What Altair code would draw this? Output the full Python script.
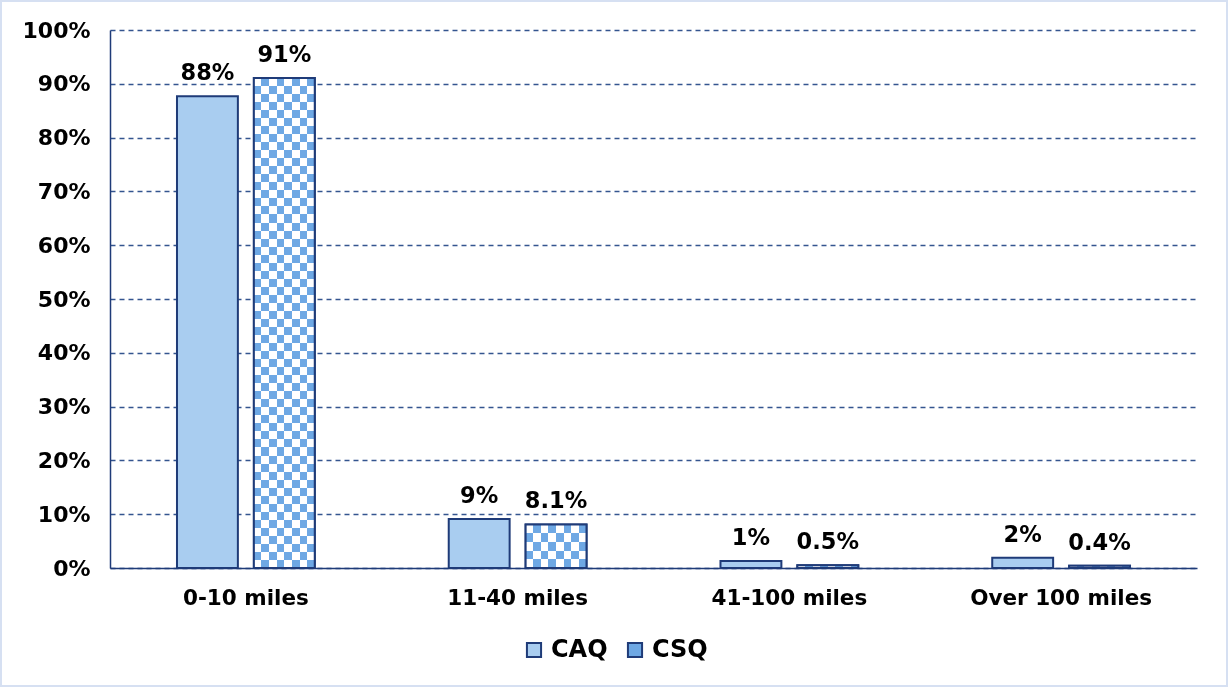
import altair as alt
import pandas as pd

# ---- data ----
categories = ["0-10 miles", "11-40 miles", "41-100 miles", "Over 100 miles"]
series = ["CAQ", "CSQ"]
caq_values = [87.7, 9.1, 1.3, 1.9]
csq_values = [91.1, 8.1, 0.5, 0.4]
caq_labels = ["88%", "9%", "1%", "2%"]
csq_labels = ["91%", "8.1%", "0.5%", "0.4%"]
y_ticks = [0, 10, 20, 30, 40, 50, 60, 70, 80, 90, 100]

rows = []
for c, v, l in zip(categories, caq_values, caq_labels):
    rows.append({"cat": c, "series": "CAQ", "value": v, "label": l})
for c, v, l in zip(categories, csq_values, csq_labels):
    rows.append({"cat": c, "series": "CSQ", "value": v, "label": l})
df = pd.DataFrame(rows)

# ---- style ----
FONT = "DejaVu Sans"
NAVY = "#1f3b78"
GRID = "#34558f"
LIGHT = "#a9cdf0"
CHECK = "#6ea8e4"
W, H = 1087, 538
CELL = 8  # checker cell size in px

x_enc = alt.X("cat:N", sort=categories,
              scale=alt.Scale(paddingInner=0.493, paddingOuter=0.2465),
              axis=alt.Axis(title=None, labelAngle=0, labelFont=FONT, labelFontSize=21.5,
                            labelFontWeight="bold", labelColor="#000000", labelPadding=19,
                            labelLimit=0, ticks=False, domainColor=NAVY, domainWidth=1.5))
xo_enc = alt.XOffset("series:N", sort=series,
                     scale=alt.Scale(domain=series, paddingInner=0.208, paddingOuter=0))
y_enc = alt.Y("value:Q", scale=alt.Scale(domain=[0, 100], nice=False),
              axis=alt.Axis(title=None, values=y_ticks, labelExpr="datum.value + '%'",
                            labelFont=FONT, labelFontSize=22, labelFontWeight="bold",
                            labelColor="#000000", labelPadding=20, ticks=False,
                            domainColor=NAVY, domainWidth=1.5,
                            grid=True, gridColor=GRID, gridDash=[5, 4], gridWidth=1.3))


def stripes(n, c0, c1, vertical):
    stops = []
    for i in range(n):
        col = c0 if i % 2 == 0 else c1
        stops.append(alt.GradientStop(offset=i / n, color=col))
        stops.append(alt.GradientStop(offset=(i + 1) / n, color=col))
    if vertical:
        return alt.LinearGradient(gradient="linear", stops=stops, x1=0, x2=1, y1=0, y2=0)
    return alt.LinearGradient(gradient="linear", stops=stops, x1=0, x2=0, y1=0, y2=1)


base = alt.Chart(df)

# all bars with legend colours
bars = base.mark_bar(stroke=NAVY, strokeWidth=2).encode(
    x=x_enc, xOffset=xo_enc, y=y_enc,
    color=alt.Color("series:N", sort=series,
                    scale=alt.Scale(domain=series, range=[LIGHT, CHECK]),
                    legend=alt.Legend(title=None, orient="none", direction="horizontal",
                                      legendX=412, legendY=608, symbolType="square",
                                      symbolSize=200, symbolStrokeColor=NAVY,
                                      symbolStrokeWidth=2, labelFont=FONT, labelFontSize=24,
                                      labelFontWeight="bold", labelColor="#000000",
                                      columnPadding=15, labelOffset=5)),
)

csq = base.transform_filter(alt.datum.series == "CSQ")
# checkerboard: vertical stripes, XOR with horizontal stripes, then colourize
vstripes = csq.mark_bar(fill=stripes(8, "#ffffff", "#000000", True)).encode(
    x=x_enc, xOffset=xo_enc, y=y_enc)
hlayers = []
for c, v in zip(categories, csq_values):
    n = max(1, round(v / 100 * H / CELL))
    hlayers.append(
        base.transform_filter((alt.datum.series == "CSQ") & (alt.datum.cat == c))
        .mark_bar(fill=stripes(n, "#000000", "#ffffff", False), blend="difference")
        .encode(x=x_enc, xOffset=xo_enc, y=y_enc)
    )
tint = csq.mark_bar(fill=CHECK, blend="lighten").encode(x=x_enc, xOffset=xo_enc, y=y_enc)
outline = csq.mark_bar(fill="transparent", stroke=NAVY, strokeWidth=2).encode(
    x=x_enc, xOffset=xo_enc, y=y_enc)

labels = base.mark_text(font=FONT, fontSize=22.5, fontWeight="bold", color="#000000",
                        baseline="bottom", dy=-11).encode(
    x=x_enc, xOffset=xo_enc, y=y_enc, text="label:N")

frame = base.transform_filter(alt.datum.label == "88%").mark_rect(
    fill="transparent", stroke="#d6e0f2", strokeWidth=2, clip=False).encode(
    x=alt.value(-109), x2=alt.value(W + 30), y=alt.value(-29), y2=alt.value(H + 118))

chart = alt.layer(frame, bars, vstripes, *hlayers, tint, outline, labels).properties(
    width=W, height=H,
    autosize=alt.AutoSizeParams(type="none"),
    padding={"left": 110, "top": 30, "right": 31, "bottom": 119},
    background="#ffffff",
).configure_view(stroke=None)

chart.save("out.html", embed_options={"renderer": "svg", "actions": False})
